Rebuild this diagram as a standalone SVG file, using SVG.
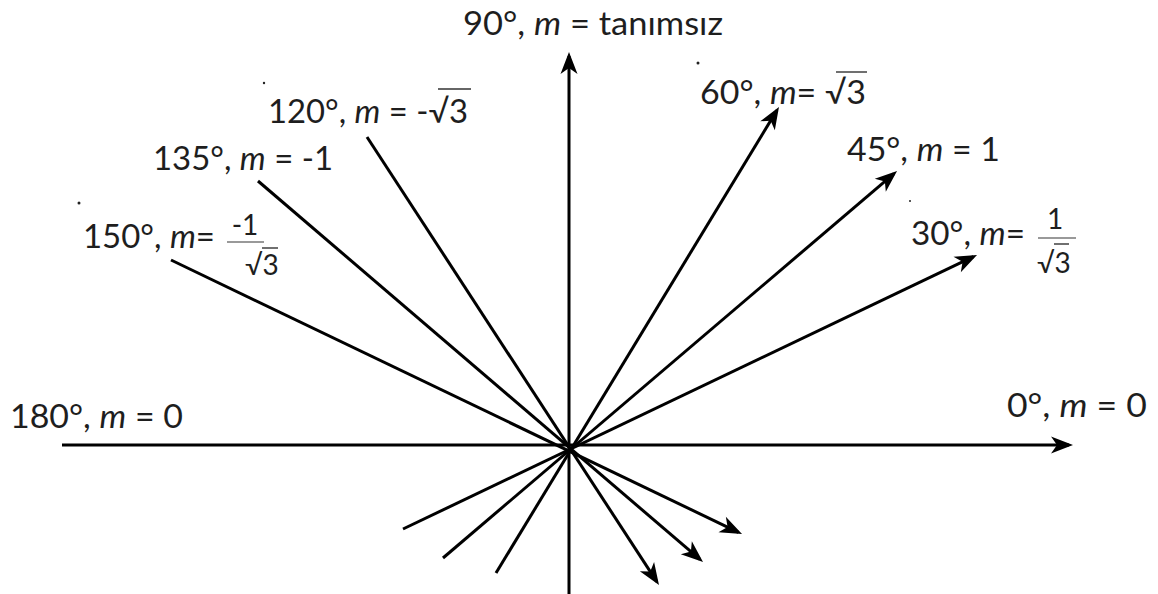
<svg xmlns="http://www.w3.org/2000/svg" width="1158" height="594" viewBox="0 0 1158 594">
<style>
.lbl{font-family:Lato,"Open Sans","Liberation Sans",sans-serif;font-size:32px;fill:#1e1e1e}
.sm{font-size:28px}
.it{font-style:italic}
.ln{stroke:#000;stroke-width:3;fill:none}
.ax{stroke:#000;stroke-width:3;fill:none}
.bar{stroke:#777;stroke-width:1.6}
.ov{stroke:#333;stroke-width:1.4}
</style>
<defs>
<marker id="ah" markerUnits="userSpaceOnUse" viewBox="-20 -10 26 20" refX="0" refY="0" markerWidth="26" markerHeight="20" orient="auto" overflow="visible">
<path d="M4,0 L-18,-8.5 L-12,0 L-18,8.5 Z" fill="#000"/>
</marker>
</defs>
<rect width="1158" height="594" fill="#fff"/>
<g id="connectors">
<line class="ax" x1="62" y1="445" x2="1069" y2="445" marker-end="url(#ah)"/>
<line class="ax" x1="569" y1="594" x2="569" y2="56" marker-end="url(#ah)"/>
<line class="ln" x1="367" y1="137" x2="656.8" y2="581.6" marker-end="url(#ah)"/>
<line class="ln" x1="258" y1="181" x2="700" y2="559.4" marker-end="url(#ah)"/>
<line class="ln" x1="171" y1="260" x2="738.4" y2="532.3" marker-end="url(#ah)"/>
<line class="ln" x1="496" y1="573" x2="776.9" y2="110.4" marker-end="url(#ah)"/>
<line class="ln" x1="443" y1="558" x2="894" y2="173.6" marker-end="url(#ah)"/>
<line class="ln" x1="403" y1="529" x2="973.4" y2="256.7" marker-end="url(#ah)"/>
</g>
<g id="label-90">
<text class="lbl" x="463" y="35" textLength="260" lengthAdjust="spacingAndGlyphs">90°, <tspan class="it">m</tspan> = tanımsız</text>
</g>
<g id="label-120">
<text class="lbl" x="268" y="123" textLength="200" lengthAdjust="spacingAndGlyphs">120°, <tspan class="it">m</tspan> = -√3</text>
<line class="ov" x1="438" y1="89" x2="471" y2="89"/>
</g>
<g id="label-135">
<text class="lbl" x="153" y="170" textLength="180" lengthAdjust="spacingAndGlyphs">135°, <tspan class="it">m</tspan> = -1</text>
</g>
<g id="label-150">
<text class="lbl" x="83" y="248" textLength="132" lengthAdjust="spacingAndGlyphs">150°, <tspan class="it">m</tspan>=</text>
<text class="lbl sm" x="245" y="235" text-anchor="middle">-1</text>
<line class="bar" x1="227" y1="242" x2="264" y2="242"/>
<text class="lbl sm" x="262" y="275" text-anchor="middle">√3</text>
<line class="ov" x1="262" y1="248" x2="278" y2="248"/>
</g>
<g id="label-60">
<text class="lbl" x="700" y="104" textLength="166" lengthAdjust="spacingAndGlyphs">60°, <tspan class="it">m</tspan>= √3</text>
<line class="ov" x1="836" y1="72" x2="867" y2="72"/>
</g>
<g id="label-45">
<text class="lbl" x="847" y="161" textLength="153" lengthAdjust="spacingAndGlyphs">45°, <tspan class="it">m</tspan> = 1</text>
</g>
<g id="label-30">
<text class="lbl" x="911" y="245" textLength="114" lengthAdjust="spacingAndGlyphs">30°, <tspan class="it">m</tspan>=</text>
<text class="lbl sm" x="1055" y="229" text-anchor="middle">1</text>
<line class="bar" x1="1038" y1="238" x2="1076" y2="238"/>
<text class="lbl sm" x="1054" y="273" text-anchor="middle">√3</text>
<line class="ov" x1="1054" y1="244" x2="1069" y2="244"/>
</g>
<g id="label-0">
<text class="lbl" x="1007" y="417" textLength="140" lengthAdjust="spacingAndGlyphs">0°, <tspan class="it">m</tspan> = 0</text>
</g>
<g id="label-180">
<text class="lbl" x="10" y="428" textLength="173" lengthAdjust="spacingAndGlyphs">180°, <tspan class="it">m</tspan> = 0</text>
</g>
<g id="specks" fill="#222">
<circle cx="264" cy="83" r="1.2"/>
<circle cx="79" cy="203" r="1.5"/>
<circle cx="698" cy="63" r="1.5"/>
<circle cx="910" cy="201" r="1"/>
</g>
</svg>
